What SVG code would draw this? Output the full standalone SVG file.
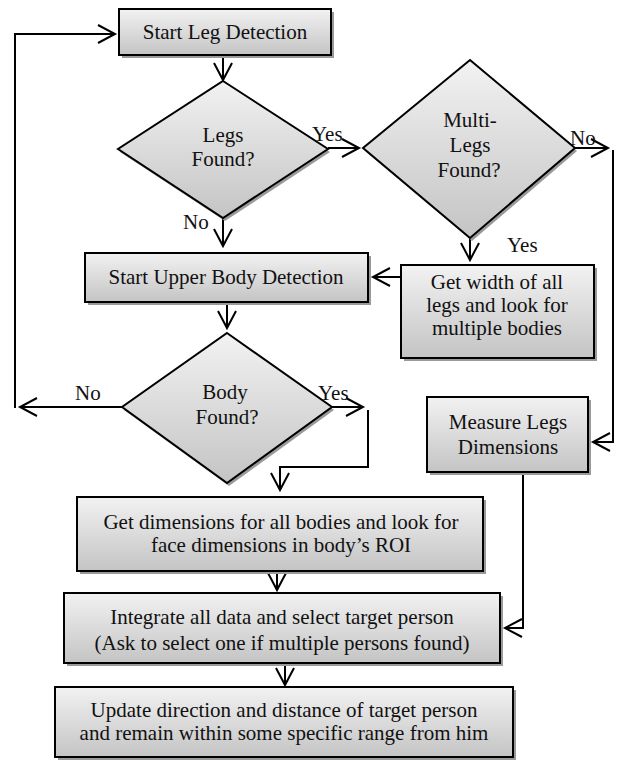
<svg xmlns="http://www.w3.org/2000/svg" width="618" height="761" viewBox="0 0 618 761">
<style>
.n{fill:url(#g);stroke:#000;stroke-width:2}
.sh{fill:#9a9a9a}
.t{font-family:"Liberation Serif","Times New Roman",serif;font-size:21px;fill:#111;text-anchor:middle}
.l{font-family:"Liberation Serif","Times New Roman",serif;font-size:21px;fill:#111}
.c{fill:none;stroke:#000;stroke-width:2}
.a{marker-end:url(#ah)}
</style>
<defs>
<linearGradient id="g" x1="0" y1="0" x2="0" y2="1">
<stop offset="0" stop-color="#f2f2f2"/>
<stop offset="1" stop-color="#c4c4c4"/>
</linearGradient>
<marker id="ah" markerUnits="userSpaceOnUse" viewBox="-20 -11 22 22" refX="0" refY="0" markerWidth="22" markerHeight="22" orient="auto" overflow="visible">
<path d="M-17,-9 L0,0 L-17,9" fill="none" stroke="#000" stroke-width="2"/>
</marker>
</defs>
<g id="connectors">
<path class="c a" d="M223,56 V80"/>
<path class="c a" d="M223,218 V246"/>
<path class="c a" d="M328,148 H359"/>
<path class="c a" d="M575,148 H608"/>
<path class="c a" d="M613,150 V442 H593"/>
<path class="c a" d="M470,238 V260"/>
<path class="c a" d="M401,277 H373"/>
<path class="c a" d="M227,303 V328"/>
<path class="c a" d="M122,407 H20"/>
<path class="c a" d="M15,408 V34 H115"/>
<path class="c a" d="M332,407 H363"/>
<path class="c a" d="M368,410 V467 H280 V490"/>
<path class="c a" d="M277,572 V590"/>
<path class="c a" d="M523,472 V628 H505"/>
<path class="c a" d="M285,664 V685"/>
</g>
<g id="start">
<rect class="sh" x="122" y="12" width="212" height="46"/>
<rect class="n" x="119" y="9" width="212" height="46"/>
<text class="t" x="225" y="39">Start Leg Detection</text>
</g>
<g id="legs">
<polygon class="sh" points="225,84 330,152 225,221 120,152"/>
<polygon class="n" points="223,81 328,149 223,218 118,149"/>
<text class="t" x="223" y="142">Legs</text>
<text class="t" x="223" y="166">Found?</text>
</g>
<g id="multi">
<polygon class="sh" points="472,63 577,151 472,241 365,151"/>
<polygon class="n" points="470,60 575,148 470,238 363,148"/>
<text class="t" x="470" y="127">Multi-</text>
<text class="t" x="470" y="152">Legs</text>
<text class="t" x="469" y="177">Found?</text>
</g>
<g id="upper">
<rect class="sh" x="88" y="256" width="283" height="49"/>
<rect class="n" x="85" y="253" width="283" height="49"/>
<text class="t" x="226" y="284">Start Upper Body Detection</text>
</g>
<g id="getwidth">
<rect class="sh" x="404" y="268" width="193" height="93"/>
<rect class="n" x="401" y="265" width="193" height="93"/>
<text class="t" x="497" y="289">Get width of all</text>
<text class="t" x="497" y="312">legs and look for</text>
<text class="t" x="497" y="335">multiple bodies</text>
</g>
<g id="body">
<polygon class="sh" points="229,336 334,410 229,486 124,410"/>
<polygon class="n" points="227,333 332,407 227,483 122,407"/>
<text class="t" x="225" y="399">Body</text>
<text class="t" x="227" y="424">Found?</text>
</g>
<g id="measure">
<rect class="sh" x="430" y="400" width="161" height="75"/>
<rect class="n" x="427" y="397" width="161" height="75"/>
<text class="t" x="508" y="429">Measure Legs</text>
<text class="t" x="508" y="454">Dimensions</text>
</g>
<g id="getdim">
<rect class="sh" x="80" y="500" width="406" height="74"/>
<rect class="n" x="77" y="497" width="406" height="74"/>
<text class="t" x="281" y="529">Get dimensions for all bodies and look for</text>
<text class="t" x="281" y="552">face dimensions in body’s ROI</text>
</g>
<g id="integrate">
<rect class="sh" x="67" y="596" width="436" height="70"/>
<rect class="n" x="64" y="593" width="436" height="70"/>
<text class="t" x="282" y="624">Integrate all data and select target person</text>
<text class="t" x="282" y="650">(Ask to select one if multiple persons found)</text>
</g>
<g id="update">
<rect class="sh" x="58" y="690" width="458" height="70"/>
<rect class="n" x="55" y="687" width="458" height="70"/>
<text class="t" x="284" y="717">Update direction and distance of target person</text>
<text class="t" x="284" y="740">and remain within some specific range from him</text>
</g>
<g id="labels">
<text class="l" x="312" y="141">Yes</text>
<text class="l" x="183" y="229">No</text>
<text class="l" x="570" y="145">No</text>
<text class="l" x="507" y="252">Yes</text>
<text class="l" x="75" y="400">No</text>
<text class="l" x="318" y="400">Yes</text>
</g>
</svg>
